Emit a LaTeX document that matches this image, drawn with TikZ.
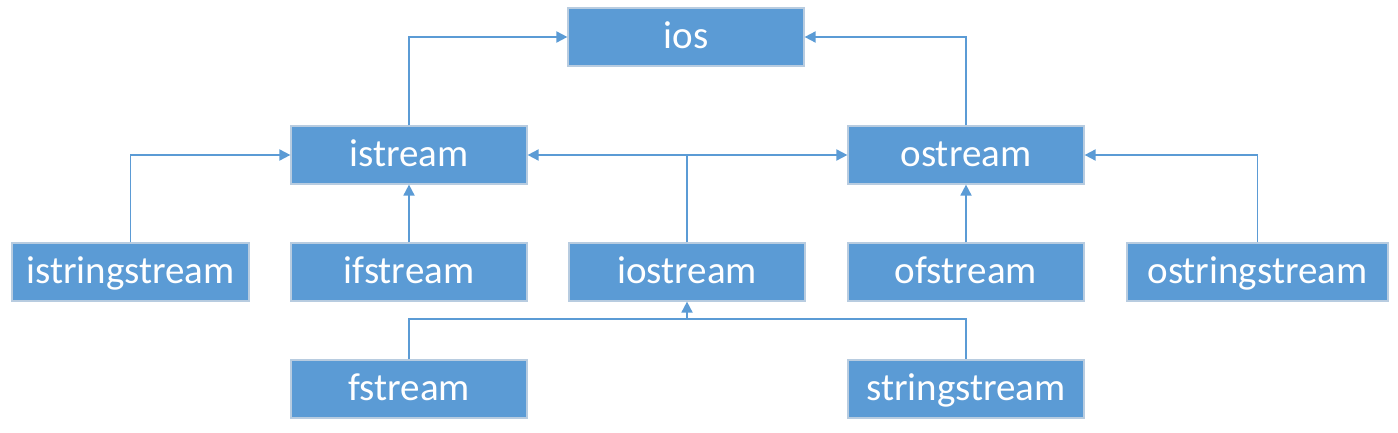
\documentclass[tikz,border=0pt]{standalone}
\usepackage{fontspec}
\setmainfont{Carlito}
\usetikzlibrary{arrows.meta}
\definecolor{boxblue}{HTML}{5B9BD5}
\definecolor{boxedge}{HTML}{B8CCE0}
\begin{document}
\begin{tikzpicture}[x=1pt,y=-1pt,
  cls/.style={draw=boxedge,line width=1.2pt,fill=boxblue,text=white,minimum width=236pt,minimum height=58pt,inner sep=0pt,text height=27pt,text depth=4pt,font=\fontsize{39}{42}\selectfont},
  conn/.style={draw=boxblue,line width=1.8pt},
  arr/.style={conn,-{Triangle[length=11pt,width=11pt]}}]
\useasboundingbox (0,0) rectangle (1398,433);
\node[cls] (ios) at (686,37) {ios};
\node[cls] (istream) at (409,155) {istream};
\node[cls] (ostream) at (966,155) {ostream};
\node[cls,minimum width=237pt] (isss) at (130.5,272) {istringstream};
\node[cls] (ifs) at (409,272) {ifstream};
\node[cls] (ios2) at (687,272) {iostream};
\node[cls] (ofs) at (966,272) {ofstream};
\node[cls,minimum width=261pt] (osss) at (1257.5,272) {ostringstream};
\node[cls] (fs) at (409,389) {fstream};
\node[cls] (ss) at (966,389) {stringstream};
\draw[arr] (istream.north) |- (ios.west);
\draw[arr] (ostream.north) |- (ios.east);
\draw[arr] (isss.north) |- (istream.west);
\draw[arr] (ifs) -- (istream);
\draw[arr] (ofs) -- (ostream);
\draw[arr] (osss.north) |- (ostream.east);
\coordinate (mid) at (687,155);
\draw[conn] (ios2.north) -- (mid);
\draw[arr] (mid) -- (istream.east);
\draw[arr] (mid) -- (ostream.west);
\coordinate (low) at (687,319);
\draw[conn] (fs.north) |- (low) -| (ss.north);
\draw[arr] (low) -- (ios2.south);
\end{tikzpicture}
\end{document}
